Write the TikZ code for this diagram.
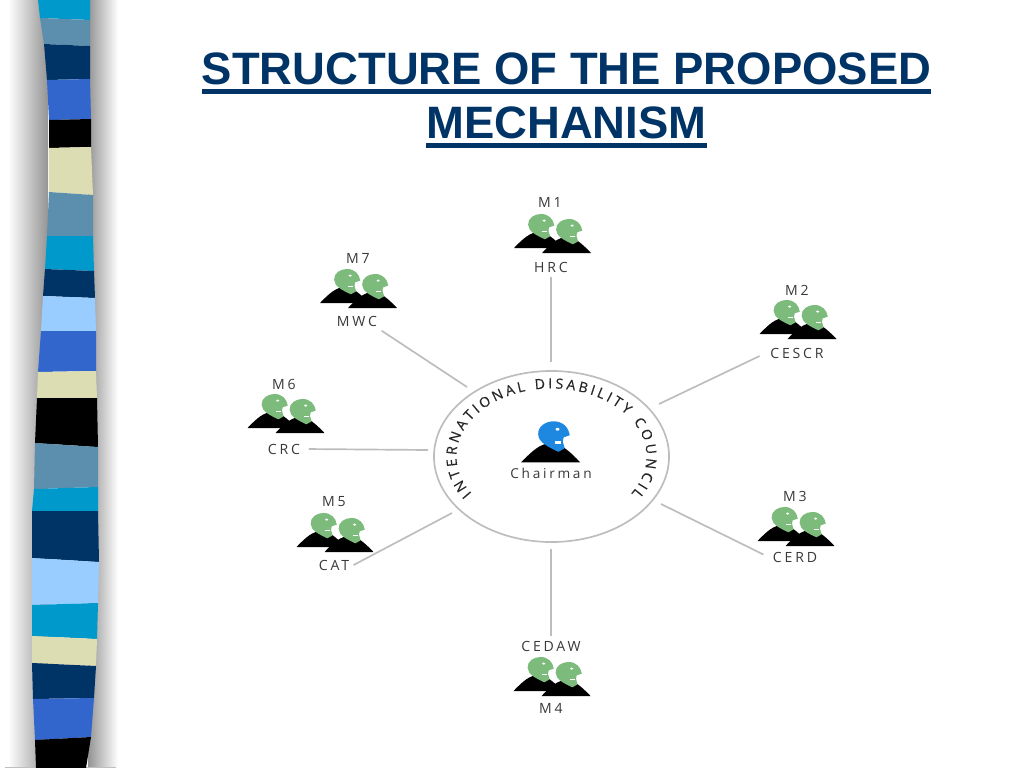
\documentclass[tikz,border=0pt]{standalone}
\usepackage{fontspec}
\usetikzlibrary{decorations.text,shapes.geometric}
\setmainfont{Liberation Sans}
\newfontfamily\labelfont[LetterSpace=20]{Open Sans}
\newfontfamily\circlefont[FakeBold=0.4]{Open Sans}
\newsavebox{\titlebox}
\newcommand{\titleline}[1]{\sbox{\titlebox}{#1}\rlap{\rule[-6.7pt]{\wd\titlebox}{2.9pt}}\usebox{\titlebox}}

\definecolor{navy}{HTML}{003366}
\definecolor{cyanbar}{HTML}{0099CC}
\definecolor{steel}{HTML}{5B8FAD}
\definecolor{royal}{HTML}{3366CC}
\definecolor{cream}{HTML}{DDDDB3}
\definecolor{lightbar}{HTML}{99CCFF}
\definecolor{headgreen}{HTML}{7CBB7C}
\definecolor{headblue}{HTML}{1E88E0}
\definecolor{spokegray}{HTML}{BDBDBD}

\tikzset{
  pics/person/.style={code={
    \fill[black] (-29.5,0) .. controls (-18,12) and (-10,19) .. (0,19)
      .. controls (10,19) and (18,12) .. (29.5,0) -- cycle;
    \fill[#1] (7.7,10.5) .. controls (-2,15) and (-12.5,20) .. (-12.5,28)
      .. controls (-13,36) and (-5,41) .. (3,41)
      .. controls (12,41) and (18,35) .. (19,27)
      -- (13,25) -- (12,21) -- (14,14) -- cycle;
    \fill[white] (6.8,33) ellipse (2 and 1.4);
    \fill[white] (4.5,18.8) rectangle (10.5,21);
  }},
  pics/members/.style={code={
    \pic[scale=.83] at (-14,5) {person=headgreen};
    \pic[scale=.83] at (14,0) {person=headgreen};
  }}
}

\begin{document}
\begin{tikzpicture}[
    x=0.025cm, y=0.025cm,
    title/.style={font=\fontsize{32.3}{38.4}\selectfont\bfseries, text=navy, align=center},
    tag/.style={font=\labelfont\fontsize{10}{12}\selectfont, text=black!78, inner sep=3pt},
    spoke/.style={spokegray, line width=1.2pt}
]
\useasboundingbox (0,0) rectangle (1024,-768);

% Shadow of the bar
\shade[left color=white, right color=black!42] (8,0) rectangle (48,-768);
\shade[left color=black!42, right color=white] (88,0) rectangle (118,-768);
\fill[black!25] (5,-767) rectangle (116,-768);

% Bar
\foreach \col/\xl/\yl/\xr/\yr [remember=\xl as \pl (initially 38), remember=\yl as \ql (initially 0),
    remember=\xr as \pr (initially 90), remember=\yr as \qr (initially 0)] in {
    cyanbar/40/18/90/20, steel/44/44/90/46, navy/47/80/90/79, royal/49/120/91/119,
    black/49/148/91/147, cream/49/192/93/195, steel/47/236/93/236, cyanbar/45/269/94/271,
    navy/43/296/95/298, lightbar/41/331/96/331, royal/38/372/96/371, cream/37/398/97/398,
    black/35/443/98/447, steel/34/489/98/487, cyanbar/32/511/98/511, navy/32/558/99/562,
    lightbar/32/605/98/603, cyanbar/32/636/97/639, cream/32/663/96/666, navy/33/699/94/698,
    royal/35/740/91/737, black/36/768/86/768}
  \fill[\col] (\pl,-\ql) -- (\xl,-\yl) -- (\xr,-\yr) -- (\pr,-\qr) -- cycle;

% Title
\node[title] (heading) at (566.5,-100) {\titleline{STRUCTURE OF THE PROPOSED}\\\titleline{MECHANISM}};

% Council
\node[draw=spokegray, line width=1.2pt, ellipse, minimum width=5.875cm, minimum height=4.275cm, inner sep=0pt] (council) at (551.5,-456.5) {};
\path[decorate, decoration={text along path, text align={fit to path},
    text={|\circlefont\fontsize{10}{12}\selectfont\color{black!85}|INTERNATIONAL DISABILITY COUNCIL}}]
  (471.8,-493.5) arc[start angle=213, end angle=-33, x radius=95, y radius=68];
\pic at (550.7,-462.3) {person=headblue};
\node[tag, font=\labelfont\fontsize{9.7}{12}\selectfont] (chairman) at (551,-473) {Chairman};

% Members
\pic (m1) at (552.5,-253) {members};
\pic (m2) at (798,-339) {members};
\pic (m3) at (796,-546) {members};
\pic (m4) at (552,-696) {members};
\pic (m5) at (335,-552) {members};
\pic (m6) at (286,-433) {members};
\pic (m7) at (358.5,-308) {members};

% Labels
\node[tag] (n1) at (550,-202) {M1};
\node[tag] (hrc) at (551,-267) {HRC};
\node[tag] (n2) at (797,-290) {M2};
\node[tag] (cescr) at (797,-353) {CESCR};
\node[tag] (n3) at (795,-496) {M3};
\node[tag] (cerd) at (795,-557) {CERD};
\node[tag] (cedaw) at (551,-646) {CEDAW};
\node[tag] (n4) at (551,-708) {M4};
\node[tag] (n5) at (334,-502) {M5};
\node[tag] (cat) at (334,-565) {CAT};
\node[tag] (n6) at (284,-384) {M6};
\node[tag] (crc) at (284,-449) {CRC};
\node[tag] (n7) at (358,-258) {M7};
\node[tag] (mwc) at (357,-321) {MWC};

% Spoke ends near the council
\coordinate (s1) at (551,-362);
\coordinate (s2) at (659,-404);
\coordinate (s3) at (661,-504);
\coordinate (s4) at (551,-549);
\coordinate (s5) at (452,-513);
\coordinate (s6) at (428,-450);
\coordinate (s7) at (467,-387);

% Spokes
\draw[spoke] (s1) -- (hrc.south);
\draw[spoke, shorten >=5pt] (s2) -- (cescr.west);
\draw[spoke, shorten >=4pt] (s3) -- (cerd.west);
\draw[spoke] (s4) -- (cedaw.north);
\draw[spoke] (s5) -- (cat.east);
\draw[spoke, shorten >=3pt] (s6) -- (crc.east);
\draw[spoke] (s7) -- (mwc.south east);

\end{tikzpicture}
\end{document}
